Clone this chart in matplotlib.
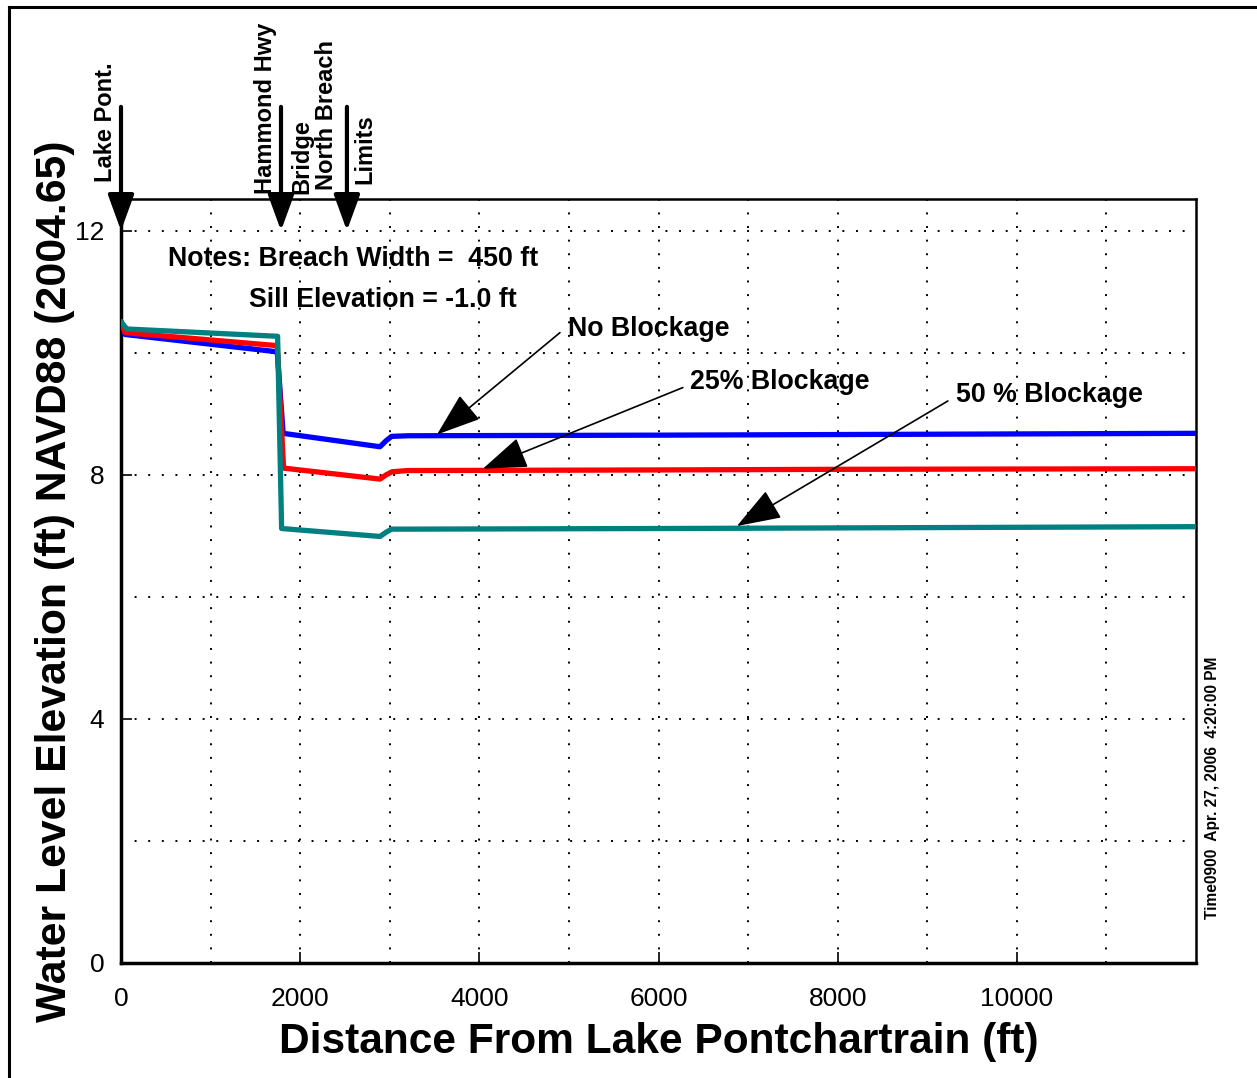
import matplotlib
matplotlib.use("Agg")
import matplotlib.pyplot as plt
from matplotlib.lines import Line2D

plt.rcParams['font.family'] = ['Liberation Sans', 'DejaVu Sans']

# ---- data ----
blue_x = [0, 45, 1719, 1745, 1810, 2891, 2960, 3021, 3200, 6000, 8000, 12000]
blue_y = [10.51, 10.30, 10.02, 10.00, 8.68, 8.46, 8.56, 8.63, 8.64, 8.65, 8.66, 8.68]
red_x = [0, 45, 1719, 1745, 1815, 2891, 2960, 3025, 3200, 6000, 8000, 12000]
red_y = [10.51, 10.33, 10.12, 10.11, 8.11, 7.93, 8.00, 8.05, 8.07, 8.08, 8.09, 8.10]
teal_x = [0, 64, 1748, 1793, 2891, 2960, 3021, 3200, 6000, 8000, 12000]
teal_y = [10.51, 10.39, 10.27, 7.12, 6.99, 7.06, 7.11, 7.11, 7.12, 7.13, 7.15]

x_ticks = [0, 2000, 4000, 6000, 8000, 10000]
y_ticks = [0, 4, 8, 12]

landmark_x = [0, 1786, 2522]
landmark_labels = [("Lake Pont.", -173, 12.80),
                   ("Hammond Hwy", 1613, 12.61),
                   ("Bridge", 2020, 12.61),
                   ("North Breach", 2299, 12.66),
                   ("Limits", 2718, 12.77)]

series_labels = ["No Blockage", "25% Blockage", "50 % Blockage"]
label_pos = [(4989, 10.39), (6350, 9.52), (9319, 9.30)]
arrow_start = [(4900, 10.33), (6272, 9.43), (9230, 9.21)]
arrow_tip = [(3527, 8.66), (4040, 8.10), (6875, 7.16)]

W, H = 1257, 1078
fig = plt.figure(figsize=(W / 100, H / 100), dpi=100)
ax = fig.add_axes([121 / W, 1 - 963 / H, (1196 - 121) / W, (963 - 199) / H])

ax.plot(blue_x, blue_y, color=(0, 0, 1), lw=3.8, solid_capstyle='round', zorder=3)
ax.plot(red_x, red_y, color=(1, 0, 0), lw=3.8, solid_capstyle='round', zorder=3)
ax.plot(teal_x, teal_y, color=(0, 0.5, 0.5), lw=3.8, solid_capstyle='round', zorder=3)

ax.set_xlim(0, 12000)
ax.set_ylim(0, 12.52)
ax.set_xticks(x_ticks)
ax.set_yticks(y_ticks)
ax.set_xticks(range(0, 12000, 1000), minor=True)
ax.set_yticks(range(0, 13, 2), minor=True)
ax.tick_params(axis='both', which='major', direction='in', length=8, width=1.2,
               labelsize=19)
ax.tick_params(axis='both', which='minor', direction='in', length=0)
ax.tick_params(axis='x', pad=17)
ax.tick_params(axis='y', pad=12)
ax.grid(True, which='both', color='black', linestyle=(0, (1, 6)), lw=1.4)

for s in ['left', 'bottom']:
    ax.spines[s].set_linewidth(2.5)
for s in ['right', 'top']:
    ax.spines[s].set_linewidth(1.8)

ax.set_xlabel("Distance From Lake Pontchartrain (ft)", fontsize=30.6,
              fontweight='bold', labelpad=8)
ax.set_ylabel("Water Level Elevation (ft) NAVD88 (2004.65)", fontsize=30.8,
              fontweight='bold', labelpad=0)

# landmark arrows at top
for lx in landmark_x:
    ax.annotate('', xy=(lx, 12.0), xytext=(lx, 14.03),
                arrowprops=dict(arrowstyle='-|>,head_length=22,head_width=8',
                                mutation_scale=1, lw=3, color='black',
                                shrinkA=0, shrinkB=0),
                annotation_clip=False, zorder=5)
for txt, tx, ty in landmark_labels:
    ax.text(tx, ty, txt, rotation=90, ha='center', va='bottom', fontsize=17,
            fontweight='bold', clip_on=False)

# notes
ax.text(525, 11.53, "Notes: Breach Width =  450 ft", fontsize=19.3,
        fontweight='bold', va='center', ha='left')
ax.text(1429, 10.86, "Sill Elevation = -1.0 ft", fontsize=19.3,
        fontweight='bold', va='center', ha='left')

# series annotations
for lab, (tx, ty), (sx, sy), (ex, ey) in zip(series_labels, label_pos,
                                             arrow_start, arrow_tip):
    ax.text(tx, ty, lab, fontsize=19.3, fontweight='bold', va='center', ha='left')
    ax.annotate('', xy=(ex, ey), xytext=(sx, sy),
                arrowprops=dict(arrowstyle='-|>,head_length=28,head_width=10',
                                mutation_scale=1, lw=1.2, color='black',
                                shrinkA=0, shrinkB=0), zorder=6)

# timestamp
fig.text(1212 / W, 1 - 788 / H, "Time0900  Apr. 27, 2006  4:20:00 PM",
         rotation=90, ha='center', va='center', fontsize=11.2, fontweight='bold')

# outer frame (left and top edges)
fig.add_artist(Line2D([9 / W, 9 / W], [0, 1 - 7 / H], transform=fig.transFigure,
                      color='black', lw=2.2))
fig.add_artist(Line2D([9 / W, 1], [1 - 7 / H, 1 - 7 / H], transform=fig.transFigure,
                      color='black', lw=2.2))

fig.savefig("out.png", dpi=100)
